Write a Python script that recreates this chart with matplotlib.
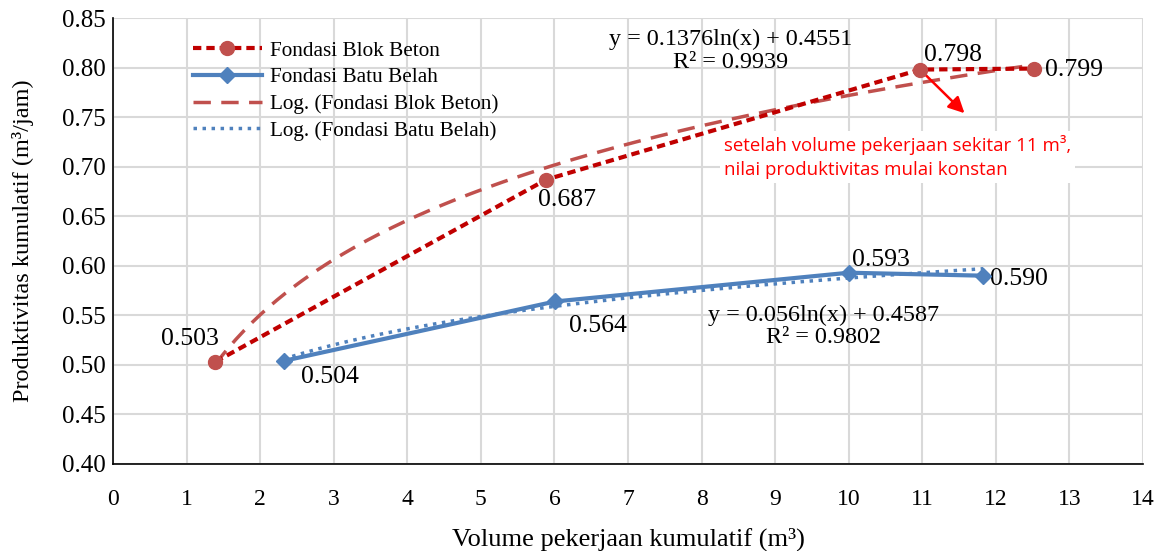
import numpy as np
import matplotlib
matplotlib.use("Agg")
from matplotlib import pyplot as plt

# data
x_blok = [1.39, 5.89, 10.97, 12.52]
y_blok = [0.503, 0.687, 0.798, 0.799]
x_batu = [2.32, 6.01, 10.00, 11.83]
y_batu = [0.504, 0.564, 0.593, 0.590]

# log trendlines as printed on the chart: y = a ln(x) + b
a_blok, b_blok, r2_blok = 0.1376, 0.4551, 0.9939
a_batu, b_batu, r2_batu = 0.056, 0.4587, 0.9802

xticks = list(range(0, 15))
yticks = [0.40, 0.45, 0.50, 0.55, 0.60, 0.65, 0.70, 0.75, 0.80, 0.85]

plt.rcParams["font.family"] = ["Liberation Serif", "DejaVu Serif"]

fig = plt.figure(figsize=(11.62, 5.51), dpi=100)
ax = fig.add_axes([0.0972, 0.1579, 0.8865, 0.8094])

red_dark = "#C00000"
red = "#C0504D"
blue = "#4F81BD"

xt = np.linspace(x_blok[0], x_blok[-1], 200)
xb = np.linspace(x_batu[0], x_batu[-1], 200)

ax.plot(x_blok, y_blok, color=red_dark, ls=(0, (2.0, 1.2)), lw=3,
        marker="o", ms=10, mfc=red, mec=red, label="Fondasi Blok Beton", zorder=4)
ax.plot(x_batu, y_batu, color=blue, ls="-", lw=3,
        marker="D", ms=8, mfc=blue, mec=blue, label="Fondasi Batu Belah", zorder=4)
ax.plot(xt, a_blok*np.log(xt) + b_blok, color=red, ls=(0, (5, 3)), lw=2.5,
        label="Log. (Fondasi Blok Beton)", zorder=3)
ax.plot(xb, a_batu*np.log(xb) + b_batu, color=blue, ls=(0, (1, 1.6)), lw=2.5,
        label="Log. (Fondasi Batu Belah)", zorder=3)

ax.set_xlim(0, 14)
ax.set_ylim(0.40, 0.85)
ax.set_xticks(xticks)
ax.set_yticks(yticks)
ax.set_yticklabels(["%.2f" % v for v in yticks])
ax.tick_params(axis="y", length=0, labelsize=18, pad=5)
ax.tick_params(axis="x", length=0, labelsize=17, pad=18)
ax.grid(True, color="#d9d9d9", lw=1.5)
ax.set_axisbelow(True)
for s in ["top", "right"]:
    ax.spines[s].set_visible(False)
for s in ["left", "bottom"]:
    ax.spines[s].set_color("black")
    ax.spines[s].set_linewidth(1.2)

ax.set_xlabel("Volume pekerjaan kumulatif (m³)", fontsize=19, labelpad=13)
ax.set_ylabel("Produktivitas kumulatif (m³/jam)", fontsize=17.5, labelpad=20)

# point labels (pixel offsets)
offs_blok = [(-25, 23), (21, -20), (33, 15), (40, -1)]
offs_batu = [(46, -16), (43, -25), (32, 13), (36, -3)]
for x, y, o in zip(x_blok, y_blok, offs_blok):
    ax.annotate("%.3f" % y, (x, y), xytext=o, textcoords="offset pixels",
                ha="center", va="center", fontsize=18.5)
for x, y, o in zip(x_batu, y_batu, offs_batu):
    ax.annotate("%.3f" % y, (x, y), xytext=o, textcoords="offset pixels",
                ha="center", va="center", fontsize=18.5)

# trendline equations
ax.text(8.39, 0.817, "y = %.4fln(x) + %.4f\nR² = %.4f" % (a_blok, b_blok, r2_blok),
        ha="center", va="center", fontsize=17.4, linespacing=1.1)
ax.text(9.66, 0.539, "y = %.3fln(x) + %.4f\nR² = %.4f" % (a_batu, b_batu, r2_batu),
        ha="center", va="center", fontsize=17.4, linespacing=1.1)

# annotation
ax.annotate("", xy=(11.6, 0.752), xytext=(x_blok[2], y_blok[2]),
            arrowprops=dict(arrowstyle="-|>", color="red", lw=1.8, mutation_scale=24))
ax.text(8.3, 0.710, "setelah volume pekerjaan sekitar 11 m³,\nnilai produktivitas mulai konstan",
        family=["Open Sans", "DejaVu Sans"], color="red", fontsize=13.4, ha="left", va="center",
        linespacing=1.4, bbox=dict(fc="white", ec="none", pad=3), zorder=2)

leg = ax.legend(loc="upper left", bbox_to_anchor=(0.069, 0.968), frameon=False,
                fontsize=15.3, handlelength=3.25, handletextpad=0.38, labelspacing=0.32,
                borderaxespad=0)

fig.savefig("out.png", dpi=100)
